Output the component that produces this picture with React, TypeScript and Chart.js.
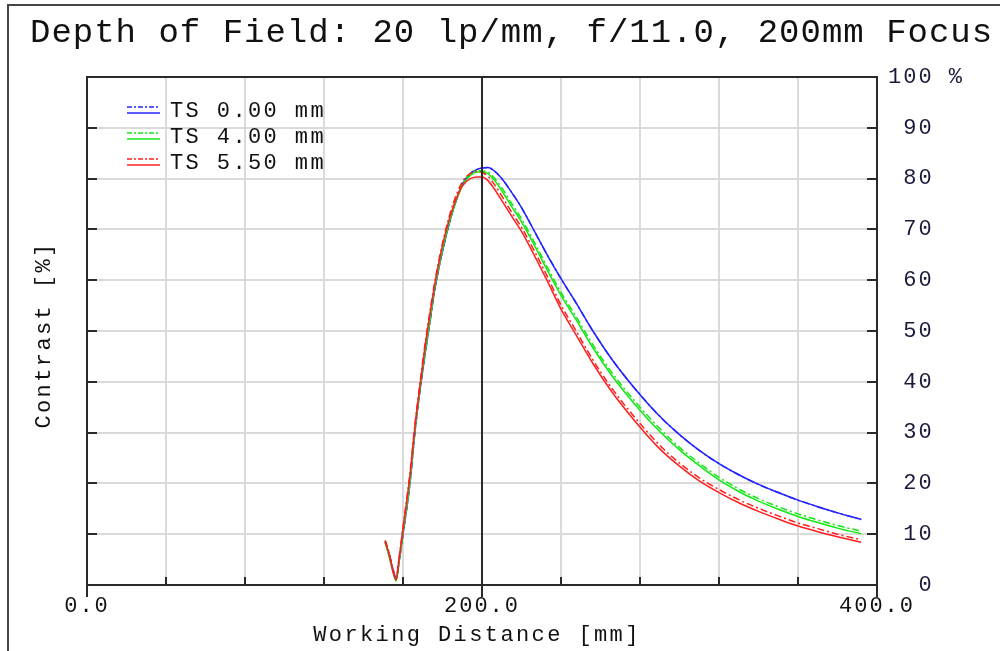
import { useEffect, useRef } from 'react';
import { Chart, registerables } from 'chart.js';

Chart.register(...registerables);

const FONT = '"Liberation Mono", "Courier New", monospace';

const titleText = 'Depth of Field: 20 lp/mm, f/11.0, 200mm Focus';
const xAxisTitle = 'Working Distance [mm]';
const yAxisTitle = 'Contrast [%]';
const legendLabels = ['TS 0.00 mm', 'TS 4.00 mm', 'TS 5.50 mm'];
const seriesColors = ['#2424ff', '#14e614', '#ff1e1e'];
const xTickLabels: Record<number, string> = { 0: '0.0', 200: '200.0', 400: '400.0' };
const focusDistance = 200;

const distances = [151, 153, 155, 156.5, 158, 160, 163.5, 166, 168.5, 171, 173.5, 176, 179, 182, 185.5, 190, 194, 198, 200, 203, 206, 210, 215, 220, 227, 233, 240, 248, 256, 266, 278, 290, 300, 310, 320, 330, 340, 350, 360, 370, 380, 392];

const ts0T = [8.5, 6.0, 3.0, 1.2, 4.5, 10, 20, 30, 38, 45, 51.5, 58, 64, 69, 74, 78.8, 81, 81.9, 82.1, 82.2, 81.6, 80, 77.3, 74.3, 69.3, 65, 60.3, 55.3, 50.1, 44.3, 38.4, 33.2, 29.6, 26.5, 23.9, 21.7, 19.8, 18.2, 16.7, 15.4, 14.2, 12.9];
const ts0S = [8.5, 6.0, 3.0, 1.2, 4.5, 10, 20, 30, 38, 45, 51.5, 58, 64, 69, 74, 78.8, 81, 81.9, 82.1, 82.2, 81.6, 80, 77.3, 74.3, 69.3, 65, 60.3, 55.3, 50.1, 44.3, 38.4, 33.2, 29.6, 26.5, 23.9, 21.7, 19.8, 18.2, 16.7, 15.4, 14.2, 12.9];
const ts4T = [8.3, 5.5, 2.5, 0.8, 4.5, 10.3, 20.3, 30.3, 38.3, 45.3, 51.8, 58.3, 64.2, 69.2, 74, 78.5, 80.6, 81.3, 81.3, 81, 79.8, 77.6, 74.5, 71.5, 66.5, 62, 57, 52, 46.8, 41.1, 35.3, 30.2, 26.6, 23.5, 20.7, 18.4, 16.5, 14.9, 13.5, 12.3, 11.2, 10.1];
const ts4S = [8.6, 5.8, 2.8, 1.0, 4.8, 10.6, 20.6, 30.6, 38.6, 45.6, 52.1, 58.6, 64.5, 69.6, 74.4, 78.9, 81, 81.6, 81.5, 81.3, 80.2, 78.2, 75.1, 72.1, 67.1, 62.6, 57.6, 52.6, 47.4, 41.7, 35.9, 30.8, 27.1, 24.0, 21.2, 18.9, 17.0, 15.4, 14.0, 12.8, 11.7, 10.6];
const ts55T = [8.5, 6, 2.5, 1.0, 5, 11, 21.5, 31, 39, 46.5, 53, 59, 65, 70, 74.5, 78.5, 80, 80.3, 80.3, 79.6, 78.1, 75.7, 72.6, 69.6, 64.5, 59.9, 54.3, 49.0, 43.7, 37.9, 32.0, 26.8, 23.4, 20.5, 18.2, 16.2, 14.5, 13.0, 11.6, 10.5, 9.5, 8.4];
const ts55S = [8.8, 6.3, 2.9, 1.3, 5.4, 11.4, 22, 31.5, 39.5, 47, 53.5, 59.5, 65.5, 70.5, 75.2, 79.3, 81, 81.5, 81.2, 80.5, 79, 76.6, 73.4, 70.4, 65.4, 60.8, 55.1, 49.8, 44.4, 38.6, 32.7, 27.5, 24.0, 21.1, 18.8, 16.8, 15.1, 13.6, 12.2, 11.1, 10.0, 8.9];

const DASH = [7, 3, 2, 3];

const toPoints = (ys: number[]) => ys.map((y, i) => ({ x: distances[i], y }));

const decorPlugin = {
  id: 'decor',
  beforeDraw(chart: any) {
    const ctx = chart.ctx as CanvasRenderingContext2D;
    ctx.save();
    ctx.fillStyle = '#ffffff';
    ctx.fillRect(0, 0, chart.width, chart.height);
    ctx.restore();
    (ctx as any).letterSpacing = '2px';
  },
  afterDatasetsDraw(chart: any) {
    const ctx = chart.ctx as CanvasRenderingContext2D;
    const area = chart.chartArea;
    const xs = chart.scales.x;
    const ys = chart.scales.y;
    ctx.save();
    ctx.strokeStyle = '#2a2a2a';
    ctx.lineWidth = 2;
    const fx = Math.round(xs.getPixelForValue(focusDistance));
    ctx.beginPath();
    ctx.moveTo(fx, area.top);
    ctx.lineTo(fx, area.bottom + 12);
    ctx.stroke();
    ctx.strokeRect(area.left, area.top, area.right - area.left, area.bottom - area.top);
    for (let v = 0; v <= 100; v += 10) {
      const y = Math.round(ys.getPixelForValue(v));
      ctx.beginPath();
      ctx.moveTo(area.left, y);
      ctx.lineTo(area.left + 10, y);
      ctx.moveTo(area.right - 10, y);
      ctx.lineTo(area.right, y);
      ctx.stroke();
    }
    for (let v = 0; v <= 400; v += 40) {
      const x = Math.round(xs.getPixelForValue(v));
      ctx.beginPath();
      ctx.moveTo(x, area.bottom - 8);
      ctx.lineTo(x, xTickLabels[v] !== undefined ? area.bottom + 12 : area.bottom);
      ctx.stroke();
    }
    ctx.restore();
  },
  afterDraw(chart: any) {
    const ctx = chart.ctx as CanvasRenderingContext2D;
    const area = chart.chartArea;
    ctx.save();
    ctx.strokeStyle = '#444';
    ctx.lineWidth = 2;
    ctx.beginPath();
    ctx.moveTo(8, chart.height);
    ctx.lineTo(8, 5);
    ctx.lineTo(chart.width, 5);
    ctx.stroke();

    ctx.fillStyle = '#111';
    ctx.textBaseline = 'alphabetic';
    (ctx as any).letterSpacing = '1px';
    ctx.font = `34px ${FONT}`;
    ctx.textAlign = 'left';
    ctx.fillText(titleText, 30, 42);

    (ctx as any).letterSpacing = '2.4px';
    ctx.font = `22px ${FONT}`;
    ctx.textAlign = 'center';
    ctx.fillText(xAxisTitle, 477, 641);

    ctx.save();
    ctx.translate(50, (area.top + area.bottom) / 2 + 4);
    ctx.rotate(-Math.PI / 2);
    ctx.textAlign = 'center';
    ctx.fillText(yAxisTitle, 0, 0);
    ctx.restore();

    const rows = [111, 137, 163];
    legendLabels.forEach((label, i) => {
      const cy = rows[i];
      ctx.strokeStyle = seriesColors[i];
      ctx.lineWidth = 1.5;
      ctx.setLineDash([5, 2, 2, 2]);
      ctx.beginPath();
      ctx.moveTo(127, cy - 4);
      ctx.lineTo(160, cy - 4);
      ctx.stroke();
      ctx.setLineDash([]);
      ctx.beginPath();
      ctx.moveTo(127, cy + 2);
      ctx.lineTo(160, cy + 2);
      ctx.stroke();
      ctx.fillStyle = '#111';
      ctx.textAlign = 'left';
      ctx.fillText(label, 170, cy + 6);
    });
    ctx.restore();
  },
};

export default function App() {
  const canvasRef = useRef<HTMLCanvasElement | null>(null);

  useEffect(() => {
    if (!canvasRef.current) return;
    const lineDs = (label: string, ys: number[], color: string, dashed: boolean) => ({
      label,
      data: toPoints(ys),
      borderColor: color,
      backgroundColor: color,
      borderWidth: 1.5,
      borderDash: dashed ? DASH : [],
      pointRadius: 0,
      fill: false,
      cubicInterpolationMode: 'monotone' as const,
    });
    const chart = new Chart(canvasRef.current, {
      type: 'line',
      data: {
        datasets: [
          lineDs('TS 5.50 mm T', ts55T, seriesColors[2], false),
          lineDs('TS 5.50 mm S', ts55S, seriesColors[2], true),
          lineDs('TS 4.00 mm T', ts4T, seriesColors[1], false),
          lineDs('TS 4.00 mm S', ts4S, seriesColors[1], true),
          lineDs('TS 0.00 mm T', ts0T, seriesColors[0], false),
          lineDs('TS 0.00 mm S', ts0S, seriesColors[0], true),
        ],
      },
      options: {
        animation: false,
        responsive: false,
        devicePixelRatio: 1,
        layout: { padding: { top: 77, left: 0, right: 0, bottom: 0 } },
        plugins: { legend: { display: false }, tooltip: { enabled: false }, title: { display: false } },
        scales: {
          x: {
            type: 'linear',
            position: 'bottom',
            min: 0,
            max: 400,
            afterFit: (s: any) => { s.height = 66; },
            grid: { color: '#dadada', lineWidth: 2, drawTicks: false },
            border: { display: false },
            ticks: {
              stepSize: 40,
              autoSkip: false,
              maxRotation: 0,
              padding: 8,
              color: '#111',
              font: { family: FONT, size: 22 },
              callback: (v: any) => xTickLabels[Number(v)] ?? '',
            },
          },
          y: {
            type: 'linear',
            position: 'right',
            min: 0,
            max: 100,
            afterFit: (s: any) => { s.width = 123; },
            grid: { color: '#dadada', lineWidth: 2, drawTicks: false },
            border: { display: false },
            ticks: {
              stepSize: 10,
              padding: 11,
              color: '#1a1a3a',
              font: { family: FONT, size: 22 },
              callback: (v: any) => (Number(v) === 100 ? '100 %' : String(v).padStart(3, ' ')),
            },
          },
          yL: {
            type: 'linear',
            position: 'left',
            min: 0,
            max: 100,
            afterFit: (s: any) => { s.width = 87; },
            grid: { display: false, drawTicks: false },
            border: { display: false },
            ticks: { display: false },
          },
        },
      },
      plugins: [decorPlugin],
    });
    return () => chart.destroy();
  }, []);

  return (
    <div style={{ position: 'fixed', left: 0, top: 0, width: 1000, height: 651, background: '#fff' }}>
      <canvas ref={canvasRef} width={1000} height={651} style={{ display: 'block' }} />
    </div>
  );
}
